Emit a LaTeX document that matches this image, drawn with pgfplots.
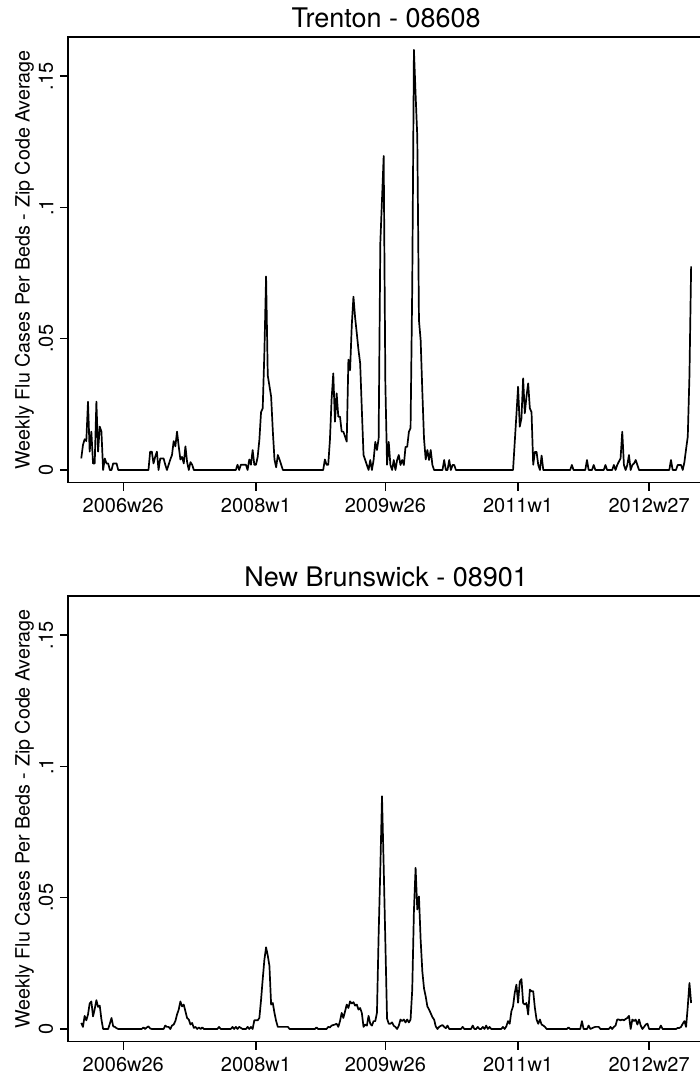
\documentclass[border=0pt]{standalone}
\usepackage{fontspec}
\setmainfont{TeX Gyre Heros}
\usepackage{pgfplots}
\pgfplotsset{compat=1.18}
\usepackage{pgfplotstable}

% week index k: 0 = 2006w1, 363 = 2012w52
\pgfplotstableread{
k v
0 0.0044
1 0.0095
2 0.0117
3 0.0110
4 0.0260
5 0.0070
6 0.0146
7 0.0025
8 0.0025
9 0.0260
10 0.0070
11 0.0165
12 0.0146
13 0
14 0.0044
15 0.0025
16 0.0025
17 0
18 0
19 0.0025
20 0.0025
21 0.0025
22 0
40 0
41 0.0070
42 0.0070
43 0.0025
44 0.0050
45 0.0070
46 0
47 0.0044
48 0.0044
49 0.0044
50 0.0020
51 0
52 0.0020
53 0.0040
54 0.0057
55 0.0110
56 0.0090
57 0.0146
58 0.0090
59 0.0040
60 0.0050
61 0.0025
62 0.0090
63 0.0030
64 0
65 0.0030
66 0.0020
67 0
92 0
93 0.0020
94 0
95 0.0020
96 0.0020
97 0.0020
98 0.0020
99 0
100 0.0040
101 0.0020
102 0.0076
103 0.0020
104 0.0020
105 0.0050
106 0.0114
107 0.0220
108 0.0235
109 0.0450
110 0.0737
111 0.0360
112 0.0320
113 0.0280
114 0.0150
115 0.0040
116 0.0010
117 0.0057
118 0.0040
119 0.0020
120 0
144 0
145 0.0040
146 0.0020
147 0.0020
148 0.0114
149 0.0270
150 0.0368
151 0.0184
152 0.0292
153 0.0203
154 0.0203
155 0.0146
156 0.0146
157 0.0127
158 0.0108
159 0.0420
160 0.0380
161 0.0550
162 0.0660
163 0.0580
164 0.0520
165 0.0457
166 0.0406
167 0.0229
168 0.0057
169 0.0038
170 0.0019
171 0
172 0.0038
173 0
174 0.0038
175 0.0107
176 0.0076
177 0.0120
178 0.0865
179 0.1030
180 0.1196
181 0.0330
182 0.0020
183 0.0107
184 0.0019
185 0
186 0.0038
187 0
188 0.0038
189 0.0057
190 0.0019
191 0.0038
192 0.0019
193 0.0088
194 0.0088
195 0.0145
196 0.0160
197 0.0700
198 0.1600
199 0.1430
200 0.1270
201 0.0570
202 0.0495
203 0.0300
204 0.0120
205 0.0040
206 0.0076
207 0.0038
208 0.0076
209 0.0019
210 0
215 0
216 0.0038
217 0
218 0
219 0.0038
220 0
221 0.0019
222 0.0019
223 0
257 0
258 0.0105
259 0.0210
260 0.0317
261 0.0165
262 0.0197
263 0.0349
264 0.0216
265 0.0280
266 0.0330
267 0.0235
268 0.0220
269 0.0020
270 0.0069
271 0.0069
272 0.0019
273 0
274 0.0055
275 0
291 0
292 0.0019
293 0
300 0
301 0.0038
302 0
304 0
305 0.0019
306 0
311 0
312 0.0019
313 0
316 0
317 0.0019
318 0
319 0.0019
320 0.0032
321 0.0044
322 0.0146
323 0.0019
324 0
325 0.0019
326 0.0057
327 0
328 0.0019
329 0.0025
330 0.0038
331 0.0019
332 0
350 0
351 0.0038
352 0
354 0
355 0.0019
356 0.0019
357 0.0019
358 0
359 0.0030
360 0.0080
361 0.0127
362 0.0360
363 0.0775
}\trenton

\pgfplotstableread{
k v
0 0.0023
1 0.0008
2 0.0050
3 0.0033
4 0.0055
5 0.0097
6 0.0105
7 0.0048
8 0.0076
9 0.0110
10 0.0084
11 0.0089
12 0.0036
13 0
16 0
17 0.0020
18 0.0042
19 0.0010
20 0.0008
21 0.0003
22 0
36 0
37 0.0006
38 0
39 0.0006
40 0.0010
41 0.0002
42 0
49 0
50 0.0013
51 0.0008
52 0.0008
53 0
54 0.0013
55 0.0017
56 0.0030
57 0.0055
58 0.0074
59 0.0105
60 0.0086
61 0.0093
62 0.0067
63 0.0042
64 0.0036
65 0.0017
66 0.0023
67 0.0004
68 0.0008
69 0
70 0.0006
71 0
72 0.0006
73 0
81 0
82 0.0008
83 0
89 0
90 0.0008
91 0
92 0.0008
93 0
94 0.0008
95 0.0004
96 0
98 0
99 0.0008
100 0
101 0.0008
102 0
103 0.0033
104 0.0033
105 0.0033
106 0.0042
107 0.0110
108 0.0190
109 0.0264
110 0.0311
111 0.0280
112 0.0240
113 0.0093
114 0.0099
115 0.0061
116 0.0030
117 0.0008
118 0.0008
119 0.0008
120 0.0008
121 0.0008
122 0.0008
123 0.0008
124 0
139 0
140 0.0006
141 0
146 0
147 0.0008
148 0.0006
149 0.0013
150 0.0015
151 0.0017
152 0.0020
153 0.0008
154 0.0030
155 0.0061
156 0.0042
157 0.0067
158 0.0093
159 0.0080
160 0.0105
161 0.0097
162 0.0102
163 0.0089
164 0.0093
165 0.0074
166 0.0080
167 0.0061
168 0.0008
169 0.0017
170 0.0013
171 0.0050
172 0.0020
173 0.0013
174 0.0030
175 0.0030
176 0.0062
177 0.0360
178 0.0610
179 0.0886
180 0.0620
181 0.0330
182 0.0040
183 0.0020
184 0.0020
185 0.0025
186 0.0012
187 0.0008
188 0
189 0.0013
190 0.0036
191 0.0030
192 0.0036
193 0.0025
194 0.0036
195 0.0025
196 0.0036
197 0.0150
198 0.0450
199 0.0614
200 0.0455
201 0.0505
202 0.0340
203 0.0220
204 0.0155
205 0.0124
206 0.0086
207 0.0074
208 0.0060
209 0.0045
210 0.0036
211 0.0010
212 0
213 0.0008
214 0.0012
215 0.0015
216 0.0008
217 0.0003
218 0.0013
219 0
226 0
227 0.0008
228 0
232 0
233 0.0013
234 0
235 0
236 0.0008
237 0
238 0
239 0.0008
240 0
241 0.0013
242 0
243 0.0008
244 0
250 0
251 0.0008
252 0
253 0.0010
254 0.0030
255 0.0020
256 0.0067
257 0.0086
258 0.0137
259 0.0169
260 0.0100
261 0.0180
262 0.0190
263 0.0099
264 0.0093
265 0.0099
266 0.0055
267 0.0150
268 0.0144
269 0.0144
270 0.0080
271 0.0036
272 0.0020
273 0.0036
274 0.0017
275 0.0013
276 0.0008
277 0
289 0
290 0.0006
291 0
297 0
298 0.0030
299 0
301 0
302 0.0013
303 0
305 0.0006
306 0.0008
307 0.0008
308 0.0008
309 0
314 0
315 0.0008
316 0
317 0.0008
318 0.0013
319 0.0036
320 0.0036
321 0.0033
322 0.0036
323 0.0033
324 0.0038
325 0.0042
326 0.0050
327 0
328 0.0036
329 0.0030
330 0.0036
331 0.0017
332 0.0036
333 0.0013
334 0
335 0.0008
336 0.0017
337 0.0020
338 0
344 0
345 0.0013
346 0
354 0
355 0.0004
356 0.0004
357 0.0008
358 0.0020
359 0.0030
360 0.0008
361 0.0086
362 0.0175
363 0.0099
}\newbrunswick

\pgfplotsset{
  fluaxis/.style={
    scale only axis,
    width=636.4pt, height=445.7pt,
    xmin=-7.9, xmax=370.9,
    ymin=-0.00484, ymax=0.1649,
    axis line style={line width=1.3pt, black},
    tick style={line width=1.3pt, black},
    tick align=outside,
    major tick length=8pt,
    tick pos=left,
    xtick={25,104,181,260,338},
    xticklabels={2006w26,2008w1,2009w26,2011w1,2012w27},
    ytick={0,0.05,0.1,0.15},
    yticklabels={0,.05,.1,.15},
    ticklabel style={font=\fontsize{20}{24}\selectfont, inner sep=0pt},
    xticklabel style={anchor=north},
    yticklabel style={rotate=90, anchor=south},
    xticklabel shift=7pt,
    yticklabel shift=6.5pt,
    every axis y label/.style={at={([xshift=-34pt]rel axis cs:0,0.5)}, rotate=90, anchor=south, inner sep=0pt, font=\fontsize{19.7}{24}\selectfont},
    every axis title/.style={at={(rel axis cs:0.5,1)}, anchor=base, yshift=9pt, inner sep=0pt},
    ylabel={Weekly Flu Cases Per Beds - Zip Code Average},
  }
}

\begin{document}
\begin{tikzpicture}
\begin{axis}[fluaxis, at={(68pt,595.3pt)}, anchor=south west, title={\fontsize{27}{32}\selectfont Trenton - 08608}]
  \addplot[black, line width=1.7pt, line join=round, mark=none] table[x=k, y=v] {\trenton};
\end{axis}
\begin{axis}[fluaxis, at={(68pt,36.3pt)}, anchor=south west, title={\fontsize{27}{32}\selectfont New Brunswick - 08901}]
  \addplot[black, line width=1.7pt, line join=round, mark=none] table[x=k, y=v] {\newbrunswick};
\end{axis}
\pgfresetboundingbox
\useasboundingbox (0,0) rectangle (700pt,1078pt);
\end{tikzpicture}
\end{document}
